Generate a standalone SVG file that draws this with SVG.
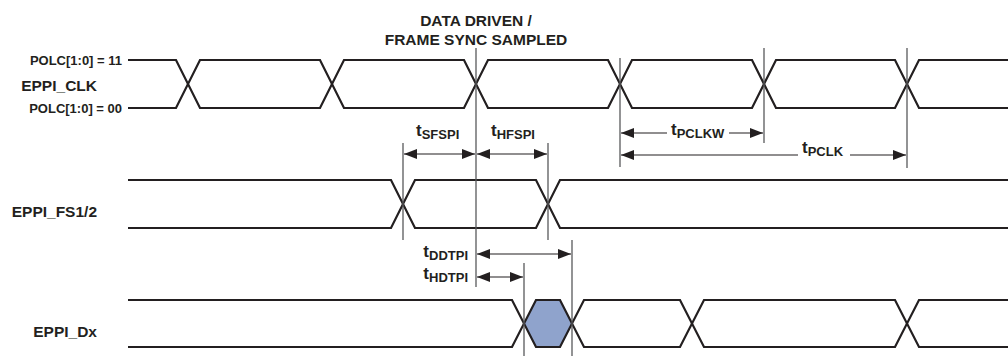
<svg xmlns="http://www.w3.org/2000/svg" width="1008" height="356" viewBox="0 0 1008 356">
<style>
text{font-family:"Liberation Sans",Arial,sans-serif;font-weight:bold;fill:#231f20}
.sig{font-size:15.5px}
.polc{font-size:13px}
.hdr{font-size:15.5px}
.t{font-size:17px}
.sub{font-size:13px}
.wave{fill:none;stroke:#231f20;stroke-width:2.2;stroke-linejoin:miter}
.vl{fill:none;stroke:#58595b;stroke-width:1.3}
.dim{fill:none;stroke:#231f20;stroke-width:1.1}
</style>
<defs>
<marker id="ah" markerUnits="userSpaceOnUse" markerWidth="14" markerHeight="10" refX="13" refY="5" orient="auto-start-reverse">
<path d="M0,0 L13,5 L0,10 Z" fill="#231f20"/>
</marker>
</defs>
<rect width="1008" height="356" fill="#ffffff"/>

<g id="header">
<text class="hdr" x="476" y="26" text-anchor="middle">DATA DRIVEN /</text>
<text class="hdr" x="476" y="45" text-anchor="middle">FRAME SYNC SAMPLED</text>
</g>

<g id="eppi_clk">
<text class="polc" x="122" y="65" text-anchor="end">POLC[1:0] = 11</text>
<text class="sig" x="97" y="91" text-anchor="end">EPPI_CLK</text>
<text class="polc" x="122" y="113" text-anchor="end">POLC[1:0] = 00</text>
<path class="wave" d="M128,60 H176 L200,108 H320 L344,60 H464 L488,108 H608 L632,60 H752 L776,108 H895 L919,60 H1008"/>
<path class="wave" d="M128,108 H176 L200,60 H320 L344,108 H464 L488,60 H608 L632,108 H752 L776,60 H895 L919,108 H1008"/>
</g>

<g id="eppi_fs">
<text class="sig" x="97" y="217" text-anchor="end">EPPI_FS1/2</text>
<path class="wave" d="M128,180 H391 L415,228 H536 L560,180 H1008"/>
<path class="wave" d="M128,228 H391 L415,180 H536 L560,228 H1008"/>
</g>

<g id="eppi_dx">
<text class="sig" x="97" y="337" text-anchor="end">EPPI_Dx</text>
<polygon points="524,323.5 536,300 560,300 572,323.5 560,347 536,347" fill="#8fa3cc"/>
<path class="wave" d="M128,300 H512 L536,347 H560 L584,300 H680 L704,347 H895 L919,300 H1008"/>
<path class="wave" d="M128,347 H512 L536,300 H560 L584,347 H680 L704,300 H895 L919,347 H1008"/>
</g>

<g id="connectors">
<line class="vl" x1="476" y1="48" x2="476" y2="287"/>
<line class="vl" x1="620" y1="58" x2="620" y2="167"/>
<line class="vl" x1="764" y1="48" x2="764" y2="143"/>
<line class="vl" x1="907" y1="48" x2="907" y2="168"/>
<line class="vl" x1="403" y1="143" x2="403" y2="240"/>
<line class="vl" x1="548" y1="143" x2="548" y2="240"/>
<line class="vl" x1="524" y1="263" x2="524" y2="356"/>
<line class="vl" x1="572" y1="240" x2="572" y2="356"/>

<line class="dim" x1="404" y1="154" x2="475" y2="154" marker-start="url(#ah)" marker-end="url(#ah)"/>
<line class="dim" x1="477" y1="154" x2="547" y2="154" marker-start="url(#ah)" marker-end="url(#ah)"/>
<line class="dim" x1="621" y1="133" x2="667" y2="133" marker-start="url(#ah)"/>
<line class="dim" x1="729" y1="133" x2="763" y2="133" marker-end="url(#ah)"/>
<line class="dim" x1="621" y1="155" x2="798" y2="155" marker-start="url(#ah)"/>
<line class="dim" x1="850" y1="155" x2="906" y2="155" marker-end="url(#ah)"/>
<line class="dim" x1="477" y1="254" x2="571" y2="254" marker-start="url(#ah)" marker-end="url(#ah)"/>
<line class="dim" x1="477" y1="277" x2="523" y2="277" marker-start="url(#ah)" marker-end="url(#ah)"/>
</g>

<g id="timing-labels">
<text class="t" x="416" y="136">t<tspan class="sub" dy="3">SFSPI</tspan></text>
<text class="t" x="491" y="136">t<tspan class="sub" dy="3">HFSPI</tspan></text>
<text class="t" x="671" y="135">t<tspan class="sub" dy="3">PCLKW</tspan></text>
<text class="t" x="802" y="153">t<tspan class="sub" dy="3">PCLK</tspan></text>
<text class="t" x="468" y="257" text-anchor="end">t<tspan class="sub" dy="3">DDTPI</tspan></text>
<text class="t" x="468" y="279" text-anchor="end">t<tspan class="sub" dy="3">HDTPI</tspan></text>
</g>
</svg>
